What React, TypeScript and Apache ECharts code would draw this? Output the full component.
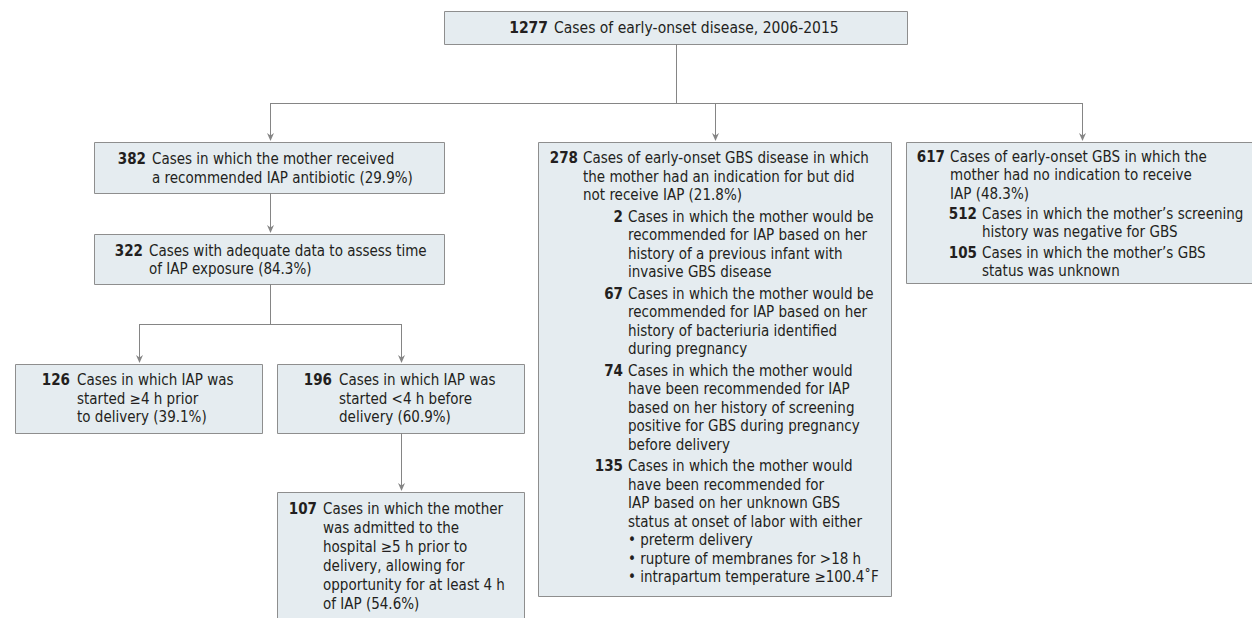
import React, { useEffect, useRef } from "react";
import * as echarts from "echarts";

type Item = { n: string; lines: string[]; level: number };

const topItems: Item[] = [
  { n: "1277", lines: ["Cases of early-onset disease, 2006-2015"], level: 0 },
];
const receivedItems: Item[] = [
  { n: "382", lines: ["Cases in which the mother received", "a recommended IAP antibiotic (29.9%)"], level: 0 },
];
const adequateItems: Item[] = [
  { n: "322", lines: ["Cases with adequate data to assess time", "of IAP exposure (84.3%)"], level: 0 },
];
const earlyItems: Item[] = [
  { n: "126", lines: ["Cases in which IAP was", "started ≥4 h prior", "to delivery (39.1%)"], level: 0 },
];
const lateItems: Item[] = [
  { n: "196", lines: ["Cases in which IAP was", "started <4 h before", "delivery (60.9%)"], level: 0 },
];
const admittedItems: Item[] = [
  {
    n: "107",
    lines: [
      "Cases in which the mother",
      "was admitted to the",
      "hospital ≥5 h prior to",
      "delivery, allowing for",
      "opportunity for at least 4 h",
      "of IAP (54.6%)",
    ],
    level: 0,
  },
];
const indicationItems: Item[] = [
  {
    n: "278",
    lines: [
      "Cases of early-onset GBS disease in which",
      "the mother had an indication for but did",
      "not receive IAP (21.8%)",
    ],
    level: 0,
  },
  {
    n: "2",
    lines: [
      "Cases in which the mother would be",
      "recommended for IAP based on her",
      "history of a previous infant with",
      "invasive GBS disease",
    ],
    level: 1,
  },
  {
    n: "67",
    lines: [
      "Cases in which the mother would be",
      "recommended for IAP based on her",
      "history of bacteriuria identified",
      "during pregnancy",
    ],
    level: 1,
  },
  {
    n: "74",
    lines: [
      "Cases in which the mother would",
      "have been recommended for IAP",
      "based on her history of screening",
      "positive for GBS during pregnancy",
      "before delivery",
    ],
    level: 1,
  },
  {
    n: "135",
    lines: [
      "Cases in which the mother would",
      "have been recommended for",
      "IAP based on her unknown GBS",
      "status at onset of labor with either",
      "• preterm delivery",
      "• rupture of membranes for >18 h",
      "• intrapartum temperature ≥100.4˚F",
    ],
    level: 1,
  },
];
const noIndicationItems: Item[] = [
  {
    n: "617",
    lines: [
      "Cases of early-onset GBS in which the",
      "mother had no indication to receive",
      "IAP (48.3%)",
    ],
    level: 0,
  },
  { n: "512", lines: ["Cases in which the mother’s screening", "history was negative for GBS"], level: 1 },
  { n: "105", lines: ["Cases in which the mother’s GBS", "status was unknown"], level: 1 },
];

const FONT = "'DejaVu Sans Condensed', 'Liberation Sans Narrow', sans-serif";
const FS = 15;
const TEXT = "#231f20";
const FILL = "#e5ecf0";
const BORDER = "#8e8e8e";
const LINE = "#858585";

type Box = {
  items: Item[];
  x: number;
  y: number;
  w: number;
  h: number;
  firstY: number;
  lh: number;
  gap: number;
  fs: number;
  cols: [number, number][];
};

const boxes: Box[] = [
  { items: topItems, x: 444, y: 11, w: 463, h: 33, firstY: 28, lh: 18.5, gap: 0, fs: 15.5, cols: [[548, 554]] },
  { items: receivedItems, x: 94, y: 142, w: 350, h: 51, firstY: 159, lh: 18.5, gap: 0, fs: FS, cols: [[146, 152]] },
  { items: adequateItems, x: 94, y: 234, w: 350, h: 50, firstY: 250.5, lh: 18.2, gap: 0, fs: FS, cols: [[143, 149]] },
  { items: earlyItems, x: 15, y: 364, w: 247, h: 69, firstY: 380, lh: 18.6, gap: 0, fs: FS, cols: [[70, 77]] },
  { items: lateItems, x: 277, y: 364, w: 247, h: 69, firstY: 380, lh: 18.6, gap: 0, fs: FS, cols: [[332, 339]] },
  { items: admittedItems, x: 277, y: 492, w: 247, h: 150, firstY: 508.5, lh: 19, gap: 0, fs: FS, cols: [[317, 323]] },
  { items: indicationItems, x: 538, y: 142, w: 353, h: 454, firstY: 158, lh: 18.5, gap: 3, fs: FS, cols: [[578, 583], [623, 628]] },
  { items: noIndicationItems, x: 906, y: 142, w: 360, h: 141, firstY: 157, lh: 18.3, gap: 2, fs: FS, cols: [[945, 950], [977, 982]] },
];

const segments: [number, number, number, number][] = [
  [676, 44, 676, 103],
  [270, 103, 1082, 103],
  [270, 284, 270, 324],
  [139, 324, 401, 324],
];
const arrows: [number, number, number][] = [
  [270, 103, 142],
  [715, 103, 142],
  [1082, 103, 142],
  [270, 193, 234],
  [139, 324, 364],
  [401, 324, 364],
  [401, 433, 492],
];

function buildGraphics() {
  const els: any[] = [];
  const px = (v: number) => Math.round(v) + 0.5;
  boxes.forEach((b) => {
    els.push({
      type: "rect",
      shape: { x: px(b.x), y: px(b.y), width: b.w, height: b.h },
      style: { fill: FILL, stroke: BORDER, lineWidth: 1 },
    });
    let y = b.firstY;
    b.items.forEach((it, idx) => {
      if (idx > 0) y += b.gap;
      const [numRight, textX] = b.cols[it.level];
      els.push({
        type: "text",
        x: numRight,
        y,
        style: {
          text: it.n,
          fontFamily: FONT,
          fontSize: b.fs,
          fontWeight: "bold",
          fill: TEXT,
          align: "right",
          verticalAlign: "middle",
        },
      });
      it.lines.forEach((ln) => {
        els.push({
          type: "text",
          x: textX,
          y,
          style: {
            text: ln,
            fontFamily: FONT,
            fontSize: b.fs,
            fill: TEXT,
            align: "left",
            verticalAlign: "middle",
          },
        });
        y += b.lh;
      });
    });
  });
  segments.forEach(([x1, y1, x2, y2]) => {
    const v = x1 === x2;
    els.push({
      type: "line",
      shape: v
        ? { x1: px(x1), y1, x2: px(x2), y2 }
        : { x1, y1: px(y1), x2, y2: px(y2) },
      style: { stroke: LINE, lineWidth: 1 },
    });
  });
  arrows.forEach(([x, y1, y2]) => {
    els.push({
      type: "line",
      shape: { x1: px(x), y1, x2: px(x), y2: y2 - 6 },
      style: { stroke: LINE, lineWidth: 1 },
    });
    els.push({
      type: "polygon",
      shape: {
        points: [
          [px(x) - 3.5, y2 - 9],
          [px(x), y2 - 6.5],
          [px(x) + 3.5, y2 - 9],
          [px(x), y2 - 1],
        ],
      },
      style: { fill: LINE },
    });
  });
  return els;
}

export default function App() {
  const ref = useRef<HTMLDivElement>(null);
  useEffect(() => {
    document.body.style.margin = "0";
    const chart = echarts.init(ref.current!, undefined, { renderer: "svg" });
    chart.setOption({
      animation: false,
      backgroundColor: "#ffffff",
      graphic: { elements: buildGraphics() },
    });
    return () => chart.dispose();
  }, []);
  return <div ref={ref} style={{ width: 1252, height: 618 }} />;
}
